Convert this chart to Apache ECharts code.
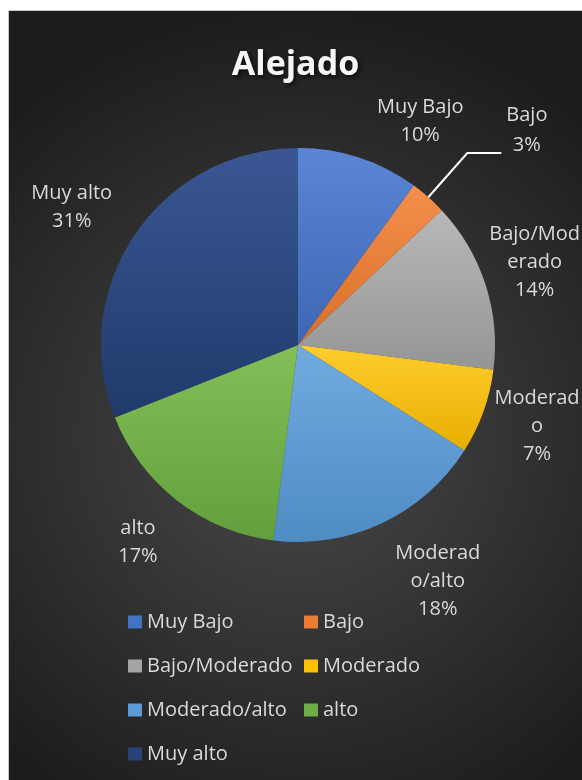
<!DOCTYPE html>
<html>
<head>
<meta charset="utf-8">
<script src="https://cdn.jsdelivr.net/npm/echarts@6/dist/echarts.min.js"></script>
<style>
  html, body { margin: 0; padding: 0; background: #ffffff; }
  #chart { position: absolute; left: 8px; top: 10px; width: 574px; height: 770px;
           border-left: 1px solid #c8c8c8; border-top: 1px solid #c8c8c8; box-sizing: border-box; }
</style>
</head>
<body>
<div id="chart"></div>
<script>
// ---- data ----
const titleText = 'Alejado';
const categories = ['Muy Bajo', 'Bajo', 'Bajo/Moderado', 'Moderado', 'Moderado/alto', 'alto', 'Muy alto'];
const values = [10, 3, 14, 7, 18, 17, 31];
const labelText = ['Muy Bajo', 'Bajo', 'Bajo/Mod\nerado', 'Moderad\no', 'Moderad\no/alto', 'alto', 'Muy alto'];

// ---- styles ----
const baseColors = ['#4472C4', '#ED7D31', '#A5A5A5', '#FFC000', '#5B9BD5', '#70AD47', '#264478'];
const topColors  = ['#5b86d6', '#f48f4c', '#b8b8b8', '#ffcd2e', '#70abe0', '#82bf58', '#3a5794'];
const bottomColors = ['#3d66b3', '#d96f27', '#959595', '#e8ae00', '#4f8cc4', '#63a03d', '#1f3a6a'];
const labelNudge = [[44, 17], [0, 0], [-4, -5], [1, -4], [32, 7], [-5, -3], [-17, 5]];
const textColor = '#d9d9d9';
const fontFamily = '"Open Sans", "Liberation Sans", sans-serif';

const chart = echarts.init(document.getElementById('chart'));

const mainData = categories.map((name, i) => ({
  name: name,
  value: values[i],
  itemStyle: {
    color: new echarts.graphic.LinearGradient(0, 0, 0, 1, [
      { offset: 0, color: topColors[i] },
      { offset: 1, color: bottomColors[i] }
    ])
  },
  label: i === 1 ? {
    show: true,
    position: 'outside',
    formatter: p => '{c|' + labelText[p.dataIndex] + '}\n{c|' + Math.round(p.percent) + '%}',
    padding: [0, 0, 46, 0],
    rich: { c: { align: 'center', color: textColor, fontSize: 20, lineHeight: 30, fontFamily: fontFamily } }
  } : { show: false },
  labelLine: i === 1 ? { show: true, length: 59, length2: 34, lineStyle: { color: '#ffffff', width: 2 } } : { show: false }
}));

const ringData = categories.map((name, i) => ({
  name: name,
  value: values[i],
  label: { show: i !== 1 }
}));

const option = {
  backgroundColor: {
    type: 'radial', x: 0.5, y: 0.55, r: 0.75,
    colorStops: [
      { offset: 0, color: '#4a4a4a' },
      { offset: 1, color: '#1c1c1c' }
    ]
  },
  title: {
    text: titleText,
    left: 'center',
    top: 32,
    textStyle: {
      color: '#f5f5f5', fontSize: 34, fontWeight: 'bold', fontFamily: fontFamily,
      textShadowColor: 'rgba(0,0,0,0.7)', textShadowBlur: 5, textShadowOffsetX: 2, textShadowOffsetY: 2
    }
  },
  legend: {
    left: 114,
    top: 589,
    width: 350,
    orient: 'horizontal',
    itemWidth: 14,
    itemHeight: 13,
    itemGap: 10,
    icon: 'rect',
    data: categories.map((name, i) => ({ name: name, itemStyle: { color: baseColors[i] } })),
    formatter: name => '{a|' + name + '}',
    textStyle: {
      lineHeight: 34,
      height: 34,
      rich: { a: { width: 147, height: 34, fontSize: 20, lineHeight: 34, color: textColor, fontFamily: fontFamily } }
    }
  },
  series: [
    {
      name: titleText,
      type: 'pie',
      center: [289, 334],
      radius: 197,
      startAngle: 90,
      clockwise: true,
      avoidLabelOverlap: false,
      silent: true,
      itemStyle: { borderWidth: 0 },
      data: mainData
    },
    {
      name: 'labels',
      type: 'pie',
      center: [289, 334],
      radius: [240, 260],
      startAngle: 90,
      clockwise: true,
      avoidLabelOverlap: false,
      silent: true,
      itemStyle: { color: 'rgba(0,0,0,0)', borderWidth: 0 },
      label: {
        show: true,
        position: 'inside',
        formatter: p => labelText[p.dataIndex] + '\n' + Math.round(p.percent) + '%',
        color: textColor,
        fontSize: 20,
        lineHeight: 28,
        fontFamily: fontFamily,
        align: 'center'
      },
      labelLine: { show: false },
      labelLayout: p => ({ dx: labelNudge[p.dataIndex][0], dy: labelNudge[p.dataIndex][1] }),
      data: ringData
    }
  ]
};
chart.setOption(option);
</script>
</body>
</html>
